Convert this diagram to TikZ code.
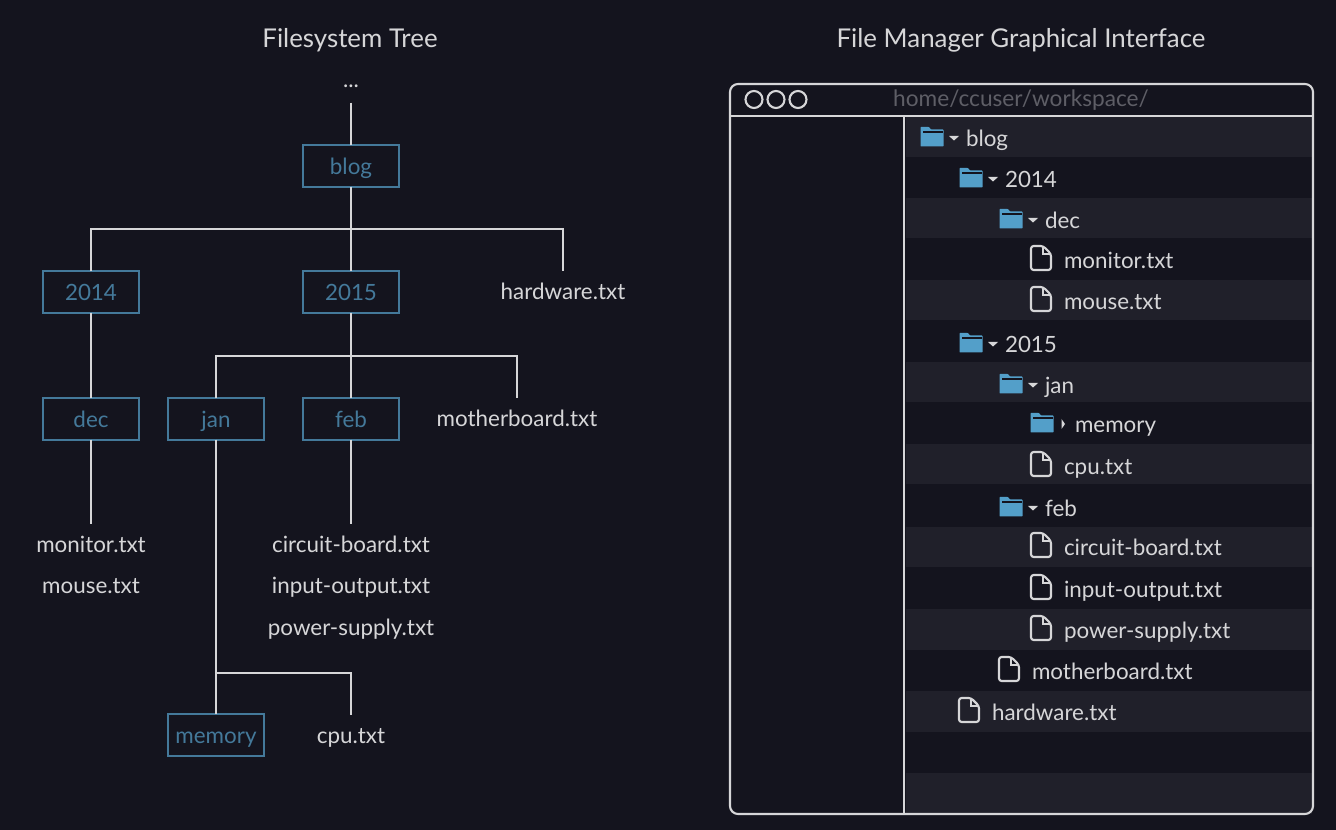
\documentclass[tikz,border=0pt]{standalone}
\usepackage{fontspec}
\setmainfont{Lato}
\usepackage{tikz}
\usetikzlibrary{calc}
\usetikzlibrary{positioning}
\definecolor{panelbg}{HTML}{14141E}
\definecolor{stripebg}{HTML}{20202A}
\definecolor{treeline}{HTML}{D6D6D8}
\definecolor{boxblue}{HTML}{44799A}
\definecolor{folderblue}{HTML}{539FC9}
\definecolor{pathgrey}{HTML}{5E5E66}

\begin{document}
\begin{tikzpicture}
		[
		x=.75pt, y=-.75pt,
		font=\fontsize{16.8}{18}\selectfont,
		every node/.style={outer sep=0, inner sep=0},
		tree edge/.style={draw=treeline, line width=1.6pt},
		folder icon/.pic={
			\fill[folderblue, rounded corners=.5pt] (-11.5,-10) -- (-3,-10) -- (-1,-7.5) -- (11.5,-7.5) -- (11.5,9.5) -- (-11.5,9.5) -- cycle;
			\draw[panelbg, line width=.8pt] (-9,-5) -- (10.5,-5);
		},
		file icon/.pic={
			\draw[treeline, line width=1.6pt, rounded corners=2pt] (-10,-12) -- (2,-12) -- (10,-4) -- (10,12) -- (-10,12) -- cycle;
			\draw[treeline, line width=1.3pt] (2,-12) -- (2,-4) -- (10,-4);
		},
		open arrow/.pic={\fill[treeline] (-5,-2) -- (5,-2) -- (0,2.5) -- cycle;},
		closed arrow/.pic={\fill[treeline] (-1.5,-5) -- (-1.5,5) -- (2,0) -- cycle;}
		]
		
		% Three node styles: folder box, plain file and panel row
		\tikzstyle{dir node}=[draw=boxblue, line width=1.6pt, text=boxblue, minimum width=71.5pt, minimum height=31pt, text height=14pt, text depth=1pt];
		\tikzstyle{file node}=[text=treeline, minimum height=30pt, text height=14pt, text depth=1pt];
		\tikzstyle{row node}=[anchor=west, text=treeline, text height=14pt, text depth=1pt];
		\tikzstyle{title node}=[text=treeline, font=\fontsize{19.4}{22}\selectfont];
		
		% Background and margins
		\fill[panelbg] (0,0) rectangle (1336,830);
		\useasboundingbox (0,0) rectangle (1336,830);
		
		% Titles
		\node[title node](treetitle) at (350,40){Filesystem Tree};
		\node[title node](guititle) at (1021,40){File Manager Graphical Interface};
		
		% The Tree
		\node[text=treeline, minimum height=25pt](dots) at (351,86){...};
		\node[dir node](blog) at (351,166){blog};
		\foreach \n/\xx/\yy/\t in {y2014/91/292/2014, y2015/351/292/2015, dec/91/419/dec, jan/216/419/jan, feb/351/419/feb, memory/216/735/memory}
			\node[dir node](\n) at (\xx,\yy){\t};
		\foreach \n/\xx/\yy/\t in {hardware/563/291/hardware.txt, motherboard/517/418/motherboard.txt, monitor/91/544/monitor.txt, mouse/91/585/mouse.txt, circuit/351/544/circuit-board.txt, input/351/585/input-output.txt, power/351/627/power-supply.txt, cpu/351/735/cpu.txt}
			\node[file node](\n) at (\xx,\yy){\t};
		
		% Junctions of the tree
		\coordinate (blogfork) at (351,229);
		\coordinate (yearfork) at (351,356);
		\coordinate (janfork) at (216,673);
		
		% Connectors
		\draw[tree edge](dots)--(blog);
		\draw[tree edge](blog)--(y2015);
		\draw[tree edge](y2015)--(feb);
		\draw[tree edge](y2014.north)|-(blogfork)-|(hardware.north);
		\draw[tree edge](jan.north)|-(yearfork)-|(motherboard.north);
		\draw[tree edge](y2014)--(dec);
		\draw[tree edge](dec)--(monitor);
		\draw[tree edge](feb)--(circuit);
		\draw[tree edge](jan)--(memory);
		\draw[tree edge](janfork)-|(cpu.north);
		
		% Stripes of the file manager
		\foreach \y in {117,198,280,362,444,527,609,691,773}
			\fill[stripebg] (906,\y) rectangle (1312,\y+40.5);
		
		% Window frame
		\draw[treeline, line width=1.6pt, rounded corners=6pt] (730,84) rectangle (1313,814);
		\draw[treeline, line width=1.6pt] (730,116) -- (1313,116);
		\draw[treeline, line width=1.6pt] (904,116) -- (904,814);
		\foreach \x in {754,776,798}
			\draw[treeline, line width=1.6pt] (\x,99.5) circle (8.5);
		\node[text=pathgrey, font=\fontsize{17}{20}\selectfont](pathbar) at (1021,100){home/ccuser/workspace/};
		
		% Folder rows
		\foreach \n/\xx/\yy/\t in {rblog/932/137/blog, ryeara/971/178/2014, rdec/1011/219/dec, ryearb/971/343/2015, rjan/1011/384/jan, rfeb/1011/507/feb}{
			\pic at (\xx,\yy) {folder icon};
			\pic at (\xx+22,\yy+1) {open arrow};
			\node[row node](\n) at (\xx+34,\yy+1){\t};
		}
		\pic at (1042,423) {folder icon};
		\pic at (1063,424) {closed arrow};
		\node[row node](rmemory) at (1075,424){memory};
		
		% File rows
		\foreach \n/\xx/\yy/\t in {rmonitor/1041/260/monitor.txt, rmouse/1041/301/mouse.txt, rcpu/1041/466/cpu.txt, rcircuit/1041/547/circuit-board.txt, rinput/1041/589/input-output.txt, rpower/1041/630/power-supply.txt, rmother/1009/671/motherboard.txt, rhardware/969/712/hardware.txt}{
			\pic at (\xx,\yy-2) {file icon};
			\node[row node](\n) at (\xx+23,\yy){\t};
		}
		
		\end{tikzpicture}
\end{document}
